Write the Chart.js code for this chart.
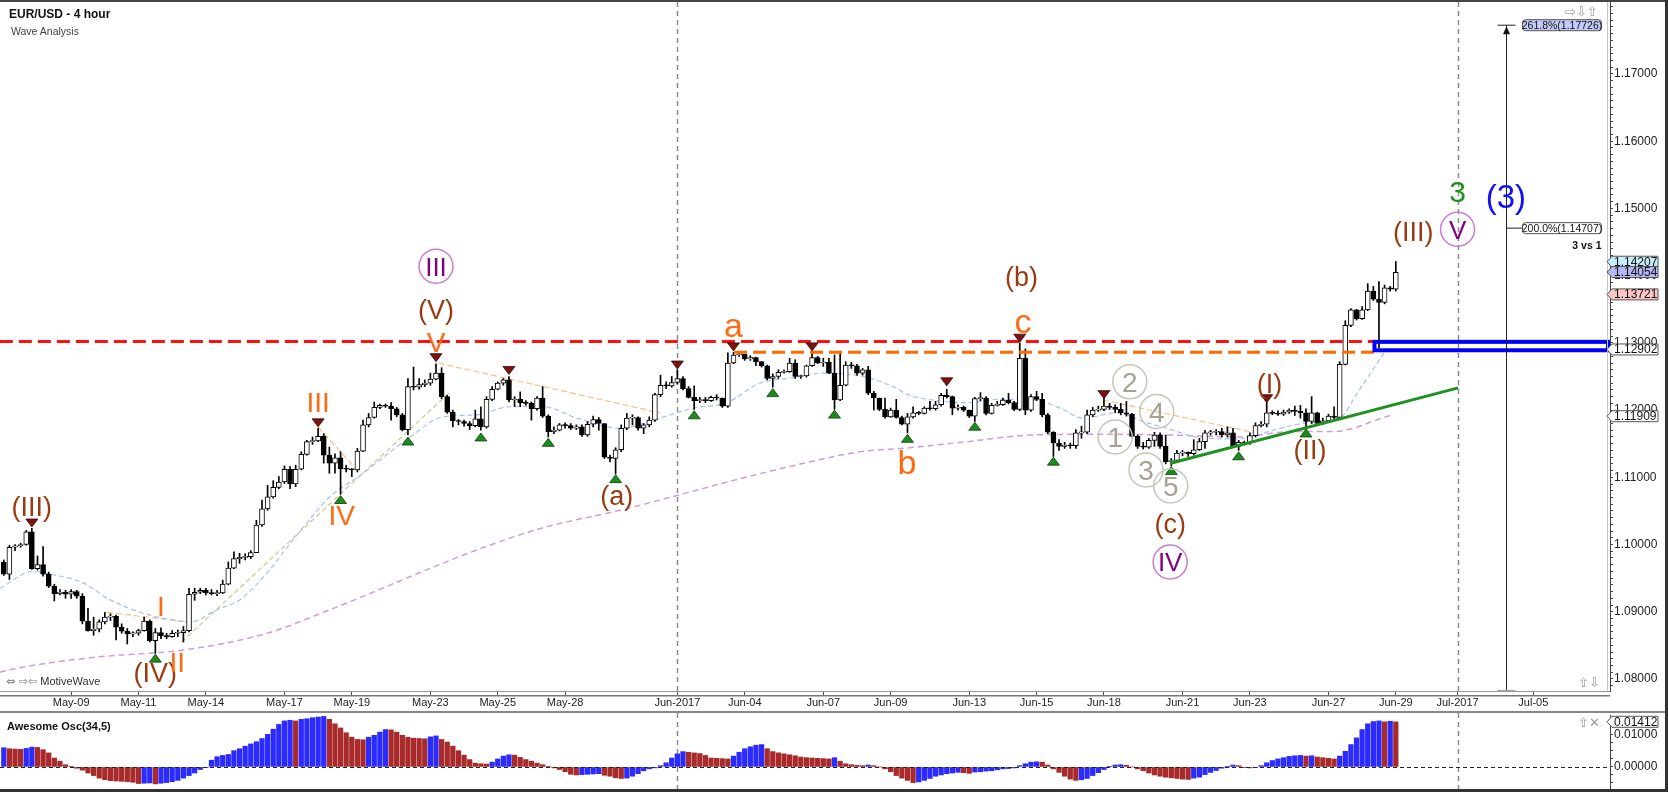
<!DOCTYPE html>
<html>
<head>
<meta charset="utf-8">
<title>EUR/USD - 4 hour</title>
<script src="https://cdn.jsdelivr.net/npm/chart.js@4.4.1/dist/chart.umd.min.js"></script>
<style>
  html, body { margin: 0; padding: 0; background: #ffffff; }
  #frame {
    position: relative; width: 1668px; height: 792px; overflow: hidden; background: #fff;
    font-family: "Liberation Sans", Arial, sans-serif;
  }
  canvas { position: absolute; left: 0; }
  #mainChart { top: 0; }
  #oscChart { top: 713px; }
  .t { position: absolute; white-space: nowrap; line-height: 1; }
  .icon { font-family: "DejaVu Sans", sans-serif; color: #9a9a9a; }
  #topBar { position: absolute; left: 0; top: 0; width: 1668px; height: 2px; background: #444; }
  #sep { position: absolute; left: 0; top: 711px; width: 1668px; height: 2px; background: #888; }
  #rightBar { position: absolute; right: 0; top: 0; width: 3px; height: 792px; background: #333; }
  #bottomBar { position: absolute; left: 0; top: 789px; width: 1668px; height: 3px; background: #333; }
</style>
</head>
<body>
<div id="frame">
  <canvas id="mainChart" width="1668" height="711"></canvas>
  <canvas id="oscChart" width="1668" height="79"></canvas>
  <div id="topBar"></div>
  <div id="sep"></div>
  <div id="rightBar"></div>
  <div id="bottomBar"></div>

  <div class="t" style="left:9px;top:8px;font-size:12px;font-weight:bold;color:#111;">EUR/USD - 4 hour</div>
  <div class="t" style="left:11px;top:26px;font-size:10.5px;color:#444;">Wave Analysis</div>
  <div class="t" style="left:6px;top:676px;font-size:11px;color:#333;"><span class="icon" style="color:#777;">&#8660; &#8680;&#8678;</span> MotiveWave</div>
  <div class="t" style="left:7px;top:721px;font-size:11px;font-weight:bold;color:#111;">Awesome Osc(34,5)</div>

  <div class="t icon" style="left:1565px;top:5px;font-size:13px;">&#8680;&#8681;&#8679;</div>
  <div class="t icon" style="left:1578px;top:676px;font-size:13px;">&#8679;&#8681;</div>
  <div class="t icon" style="left:1578px;top:716px;font-size:13px;">&#8679;&#10005;</div>
</div>

<script>
const FONT = '"Liberation Sans", Arial, Helvetica, sans-serif';
Chart.defaults.font.family = FONT;
Chart.defaults.color = '#222';

// ---- EUR/USD 4h candles (index 0 = first bar on the left) ----
// each bar opens where the previous one closed
const firstOpen = 1.0974;

const closes = [
  1.0956,1.0996,1.0998,1.1000,1.1019,1.0964,1.0970,1.0956,1.0938,1.0927,
  1.0929,1.0926,1.0930,1.0923,1.0886,1.0872,1.0874,1.0885,1.0892,1.0893,
  1.0877,1.0871,1.0867,1.0868,1.0872,1.0886,1.0857,1.0869,1.0864,1.0863,
  1.0868,1.0869,1.0872,1.0926,1.0929,1.0932,1.0928,1.0927,1.0928,1.0941,
  1.0965,1.0979,1.0981,1.0982,1.0988,1.1029,1.1053,1.1071,1.1085,1.1093,
  1.1112,1.1090,1.1112,1.1134,1.1153,1.1154,1.1161,1.1133,1.1121,1.1129,
  1.1113,1.1112,1.1111,1.1139,1.1178,1.1189,1.1204,1.1207,1.1206,1.1202,
  1.1193,1.1171,1.1235,1.1234,1.1238,1.1240,1.1246,1.1255,1.1220,1.1197,
  1.1184,1.1183,1.1180,1.1177,1.1187,1.1175,1.1216,1.1231,1.1240,1.1245,
  1.1215,1.1216,1.1211,1.1210,1.1202,1.1218,1.1191,1.1168,1.1170,1.1178,
  1.1177,1.1173,1.1175,1.1163,1.1179,1.1186,1.1180,1.1130,1.1128,1.1141,
  1.1173,1.1188,1.1189,1.1173,1.1178,1.1185,1.1223,1.1237,1.1236,1.1241,
  1.1247,1.1232,1.1219,1.1214,1.1215,1.1214,1.1219,1.1218,1.1206,1.1270,
  1.1282,1.1283,1.1276,1.1278,1.1272,1.1266,1.1247,1.1250,1.1256,1.1257,
  1.1270,1.1250,1.1251,1.1266,1.1278,1.1270,1.1271,1.1255,1.1215,1.1237,
  1.1267,1.1266,1.1255,1.1260,1.1225,1.1218,1.1201,1.1190,1.1200,1.1189,
  1.1179,1.1190,1.1196,1.1195,1.1203,1.1202,1.1208,1.1222,1.1220,1.1203,
  1.1204,1.1200,1.1191,1.1217,1.1218,1.1195,1.1207,1.1208,1.1215,1.1211,
  1.1201,1.1277,1.1200,1.1220,1.1216,1.1193,1.1167,1.1151,1.1146,1.1148,
  1.1147,1.1166,1.1167,1.1193,1.1200,1.1201,1.1206,1.1204,1.1201,1.1196,
  1.1194,1.1161,1.1146,1.1145,1.1155,1.1163,1.1146,1.1123,1.1125,1.1136,
  1.1137,1.1135,1.1141,1.1153,1.1166,1.1167,1.1168,1.1163,1.1166,1.1146,
  1.1152,1.1151,1.1162,1.1177,1.1179,1.1196,1.1195,1.1194,1.1197,1.1200,
  1.1198,1.1196,1.1183,1.1196,1.1180,1.1184,1.1191,1.1189,1.1268,1.1326,
  1.1349,1.1336,1.1349,1.1377,1.1365,1.1360,1.1382,1.1380,1.1405
];

const highs = [
  1.0977,1.0999,1.1000,1.1002,1.1021,1.1024,1.0983,1.0997,1.0959,1.0941,
  1.0933,1.0932,1.0933,1.0932,1.0927,1.0905,1.0892,1.0888,1.0899,1.0897,
  1.0895,1.0882,1.0875,1.0870,1.0874,1.0892,1.0888,1.0875,1.0876,1.0868,
  1.0872,1.0873,1.0878,1.0935,1.0935,1.0935,1.0935,1.0933,1.0932,1.0947,
  1.0974,1.0989,1.0987,1.0986,1.0991,1.1036,1.1066,1.1088,1.1095,1.1101,
  1.1117,1.1116,1.1118,1.1138,1.1155,1.1160,1.1173,1.1165,1.1145,1.1135,
  1.1138,1.1118,1.1113,1.1143,1.1185,1.1195,1.1212,1.1209,1.1209,1.1211,
  1.1204,1.1195,1.1247,1.1264,1.1247,1.1245,1.1255,1.1269,1.1263,1.1222,
  1.1200,1.1186,1.1185,1.1183,1.1200,1.1205,1.1220,1.1235,1.1242,1.1247,
  1.1250,1.1220,1.1227,1.1214,1.1212,1.1220,1.1235,1.1193,1.1175,1.1180,
  1.1181,1.1180,1.1178,1.1178,1.1183,1.1191,1.1189,1.1180,1.1133,1.1144,
  1.1178,1.1195,1.1193,1.1190,1.1180,1.1190,1.1225,1.1252,1.1242,1.1250,
  1.1260,1.1250,1.1235,1.1236,1.1219,1.1219,1.1221,1.1223,1.1218,1.1285,
  1.1286,1.1285,1.1282,1.1281,1.1279,1.1272,1.1267,1.1254,1.1260,1.1260,
  1.1277,1.1275,1.1252,1.1267,1.1287,1.1280,1.1277,1.1277,1.1282,1.1284,
  1.1272,1.1271,1.1268,1.1262,1.1265,1.1228,1.1218,1.1218,1.1203,1.1216,
  1.1191,1.1195,1.1205,1.1198,1.1205,1.1213,1.1213,1.1225,1.1231,1.1221,
  1.1208,1.1206,1.1200,1.1219,1.1226,1.1220,1.1210,1.1213,1.1218,1.1225,
  1.1213,1.1300,1.1291,1.1223,1.1228,1.1225,1.1195,1.1168,1.1156,1.1152,
  1.1151,1.1171,1.1176,1.1200,1.1204,1.1206,1.1218,1.1210,1.1208,1.1210,
  1.1213,1.1195,1.1163,1.1152,1.1158,1.1167,1.1166,1.1163,1.1128,1.1140,
  1.1140,1.1138,1.1156,1.1158,1.1170,1.1170,1.1171,1.1173,1.1175,1.1173,
  1.1155,1.1154,1.1166,1.1181,1.1183,1.1212,1.1199,1.1199,1.1200,1.1202,
  1.1206,1.1207,1.1202,1.1220,1.1197,1.1188,1.1194,1.1205,1.1272,1.1333,
  1.1351,1.1350,1.1354,1.1388,1.1384,1.1391,1.1386,1.1384,1.1421
];

const lows = [
  1.0954,1.0948,1.0991,1.0996,1.0999,1.0963,1.0962,1.0953,1.0936,1.0916,
  1.0925,1.0920,1.0920,1.0920,1.0882,1.0871,1.0865,1.0870,1.0882,1.0887,
  1.0858,1.0868,1.0852,1.0863,1.0865,1.0871,1.0855,1.0838,1.0860,1.0860,
  1.0862,1.0863,1.0855,1.0870,1.0917,1.0927,1.0925,1.0925,1.0924,1.0927,
  1.0940,1.0964,1.0972,1.0977,1.0979,1.0988,1.1027,1.1051,1.1069,1.1083,
  1.1091,1.1083,1.1086,1.1111,1.1133,1.1149,1.1153,1.1121,1.1106,1.1106,
  1.1075,1.1108,1.1101,1.1108,1.1138,1.1175,1.1188,1.1202,1.1204,1.1185,
  1.1190,1.1169,1.1163,1.1230,1.1231,1.1235,1.1237,1.1245,1.1217,1.1195,
  1.1175,1.1178,1.1176,1.1171,1.1175,1.1170,1.1173,1.1214,1.1230,1.1237,
  1.1212,1.1205,1.1205,1.1207,1.1185,1.1200,1.1189,1.1160,1.1165,1.1169,
  1.1173,1.1171,1.1171,1.1161,1.1161,1.1175,1.1170,1.1128,1.1123,1.1105,
  1.1138,1.1171,1.1178,1.1170,1.1165,1.1175,1.1183,1.1220,1.1232,1.1234,
  1.1239,1.1230,1.1218,1.1201,1.1211,1.1211,1.1213,1.1215,1.1204,1.1204,
  1.1269,1.1280,1.1274,1.1274,1.1266,1.1264,1.1245,1.1234,1.1247,1.1255,
  1.1256,1.1247,1.1247,1.1249,1.1265,1.1269,1.1265,1.1254,1.1201,1.1214,
  1.1236,1.1262,1.1252,1.1252,1.1223,1.1200,1.1199,1.1188,1.1189,1.1188,
  1.1178,1.1166,1.1188,1.1193,1.1194,1.1200,1.1200,1.1206,1.1218,1.1193,
  1.1200,1.1198,1.1189,1.1183,1.1214,1.1193,1.1194,1.1206,1.1207,1.1209,
  1.1199,1.1199,1.1193,1.1198,1.1214,1.1190,1.1165,1.1131,1.1140,1.1143,
  1.1143,1.1143,1.1158,1.1165,1.1190,1.1198,1.1199,1.1201,1.1196,1.1193,
  1.1191,1.1160,1.1143,1.1142,1.1143,1.1146,1.1143,1.1120,1.1117,1.1123,
  1.1132,1.1131,1.1133,1.1140,1.1143,1.1163,1.1163,1.1160,1.1160,1.1144,
  1.1140,1.1148,1.1149,1.1160,1.1175,1.1175,1.1193,1.1192,1.1192,1.1195,
  1.1192,1.1188,1.1174,1.1180,1.1179,1.1179,1.1183,1.1186,1.1188,1.1267,
  1.1324,1.1334,1.1335,1.1348,1.1363,1.1292,1.1358,1.1377,1.1377
];

// Awesome Oscillator (34,5), one value per candle, in pips (1 pip = 0.0001)
const aoPips = [
  60,57,56,55,58,62,61,54,44,28,
  18,7,1,-4,-10,-19,-27,-35,-40,-43,
  -44,-45,-46,-48,-52,-51,-50,-53,-51,-49,
  -46,-42,-35,-27,-19,-8,-2,21,32,36,
  39,51,57,65,72,79,89,102,118,133,
  144,146,144,149,151,154,156,158,149,135,
  122,107,93,86,85,93,99,109,117,116,
  109,99,93,90,89,88,94,97,86,78,
  65,51,37,23,12,10,9,15,25,34,
  38,37,30,23,18,12,7,2,-3,-8,
  -15,-23,-25,-24,-23,-22,-21,-26,-29,-34,
  -36,-35,-29,-21,-12,-6,-3,4,13,28,
  41,48,46,44,42,36,28,27,26,25,
  34,46,57,63,68,70,57,48,44,41,
  38,35,31,29,28,27,26,25,29,18,
  10,7,5,4,6,4,0,-6,-15,-27,
  -35,-42,-49,-47,-42,-36,-29,-25,-21,-19,
  -17,-18,-20,-16,-15,-13,-12,-9,-6,-5,
  -3,4,10,15,16,15,6,-6,-17,-29,
  -38,-42,-40,-36,-27,-18,-8,2,6,7,
  5,0,-6,-12,-19,-25,-29,-32,-34,-36,
  -38,-39,-35,-32,-24,-17,-11,-4,2,6,
  4,-1,-3,-2,4,13,20,25,29,33,
  35,36,34,35,31,29,27,25,34,49,
  70,91,117,135,142,144,141,143,141
];

// date ticks: candle index of the first bar of each labelled day
const dateTickIdx = [12, 24, 36, 50, 62, 76, 88, 100, 120, 132, 146, 158, 172, 184, 196, 210, 222, 236, 248, 259, 272.5];
const dateTickLabels = ['May-09', 'May-11', 'May-14', 'May-17', 'May-19', 'May-23', 'May-25', 'May-28', 'Jun-2017',
  'Jun-04', 'Jun-07', 'Jun-09', 'Jun-13', 'Jun-15', 'Jun-18', 'Jun-21', 'Jun-23', 'Jun-27', 'Jun-29', 'Jul-2017', 'Jul-05'];

// moving averages, sampled off the chart as [candle index, price]
const fastMA = [[-0.7,1.0935],[5.2,1.0960],[8.8,1.0955],[14.1,1.0943],[18.9,1.0918],[25.5,1.0896],[30.1,1.0888],
  [33.2,1.0885],[38,1.0903],[42.1,1.0918],[46.9,1.0958],[52.2,1.1014],[58.1,1.1071],[63.5,1.1103],[72.4,1.1160],
  [78.2,1.1190],[84.3,1.1193],[90.2,1.1205],[96.1,1.1205],[102.1,1.1188],[109.8,1.1173],[115.7,1.1185],[122.8,1.1203],
  [128.8,1.1211],[134.7,1.1240],[140.6,1.1248],[146,1.1255],[153.1,1.1250],[158.4,1.1235],[161.4,1.1222],[165.5,1.1215],
  [171.6,1.1211],[177.5,1.1216],[183.4,1.1215],[188.2,1.1203],[192.3,1.1188],[198.3,1.1196],[203,1.1183],[207.2,1.1173],
  [213.1,1.1159],[220.2,1.1157],[226.1,1.1170],[232.2,1.1181],[238,1.1188],[241.1,1.1225],[245.9,1.1285]];
const slowMA = [[-0.7,1.0810],[2.3,1.0816],[17.1,1.0833],[31.9,1.0843],[46.9,1.0868],[58.1,1.0903],[84.3,1.0992],
  [96.1,1.1025],[109.8,1.1051],[131.7,1.1099],[143.6,1.1123],[152.5,1.1138],[161.4,1.1144],[171.6,1.1153],
  [183.4,1.1163],[195.3,1.1164],[207.2,1.1163],[220.2,1.1160],[229.1,1.1168],[236.8,1.1168],[247,1.1192]];

// wave trend lines [idx1, price1, idx2, price2]
const orangeThinLines = [[18.4,1.0899,32.8,1.0885],[56,1.1175,62.9,1.1111],[77.4,1.1270,116.9,1.1196],[195.8,1.1215,222.5,1.1167]];
const khakiLines = [[31.7,1.0855,79.5,1.1227]];
const greenTrend = [207.9, 1.1121, 259.1, 1.1233];
const redLevel = [-0.7, 1.1302, 244.2, 1.1302];
const orangeLevel = [130.1, 1.1286, 244.2, 1.1286];

// target box and fibonacci projection
const targetBox = { fromIdx: 244.2, top: 1.13015, bottom: 1.12890 };
const projection = { idx: 267.6, top: 1.17726, base: 1.0783, mid: 1.14707 };

// swing markers [candle index, price]
const topMarks = [[5,1.1032],[56,1.1181],[77,1.1278],[90,1.1259],[120,1.1267],[130,1.1294],[144,1.1294],
  [168,1.1242],[181,1.1307],[196,1.1223],[225,1.1217]];
const bottomMarks = [[27,1.0831],[60,1.1067],[72,1.1154],[85,1.1160],[97,1.1152],[109,1.1098],[123,1.1193],
  [137,1.1226],[148,1.1194],[161,1.1158],[173,1.1176],[187,1.1124],[208,1.1110],[220,1.1132],[232,1.1166]];

// wave labels [text, candle index, price, style]
const waveLabels = [
  ['(III)', 5, 1.1054, 'rust'], ['I', 28, 1.0909, 'orange'], ['(IV)', 27, 1.0806, 'rust'], ['II', 30.9, 1.0825, 'orange'],
  ['III', 56, 1.1212, 'orange'], ['IV', 60.2, 1.1044, 'orange'], ['V', 77, 1.1301, 'orange'], ['(V)', 77, 1.1347, 'rust'],
  ['III', 77, 1.1414, 'purple'], ['(a)', 109.2, 1.1069, 'rust'], ['a', 130, 1.1322, 'orangeLow'],
  ['b', 160.9, 1.1123, 'orangeLow'], ['c', 181.6, 1.1329, 'orangeLow'], ['(b)', 181.3, 1.1395, 'rust'],
  ['1', 198, 1.1160, 'gray'], ['2', 200.6, 1.1242, 'gray'], ['3', 203.5, 1.1111, 'gray'], ['4', 205.4, 1.1198, 'gray'],
  ['5', 207.9, 1.1087, 'gray'], ['(c)', 207.8, 1.1028, 'rust'], ['IV', 207.8, 1.0974, 'purple'],
  ['(I)', 225.5, 1.1237, 'rust'], ['(II)', 232.7, 1.1138, 'rust'], ['(III)', 251.1, 1.1463, 'rust'],
  ['V', 259, 1.1469, 'purple'], ['3', 259, 1.1525, 'green'], ['(3)', 267.6, 1.1514, 'blue']
];

// value tags on the price axis [value, fill]
const priceTags = [[1.14207, '#c8ecfa'], [1.14054, '#b4b6f6'], [1.13721, '#ffc6c6'], [1.12902, '#ffffff'], [1.11909, '#ffffff']];
const aoTag = 0.01412;

const labelStyle = {
  rust: { color: '#9b3a0e', size: 27 },
  orange: { color: '#ff6a10', size: 28 },
  orangeLow: { color: '#ff6a10', size: 34 },
  purple: { color: '#800080', size: 26, ring: '#c77fd0', r: 17 },
  gray: { color: '#a5a294', size: 28, ring: '#c6c5bc', r: 17 },
  green: { color: '#1f8f1f', size: 30 },
  blue: { color: '#1010ff', size: 33 }
};

// axis limits, matched to the picture frame
const X_MIN = -0.677, X_MAX = 286.16;
const Y_MIN = 1.07821, Y_MAX = 1.18071;
const AO_MIN = -0.0069, AO_MAX = 0.01625;

// ---- build datasets ----
const opens = closes.map((c, i) => i === 0 ? firstOpen : closes[i - 1]);
const bodyData = closes.map((c, i) => ({ x: i, y: [opens[i], c] }));
const wickData = closes.map((c, i) => ({
  x: i, y: [Math.min(lows[i], opens[i], c), Math.max(highs[i], opens[i], c)]
}));
const bodyFill = closes.map((c, i) => c >= opens[i] ? '#ffffff' : '#000000');

function lineSet(points, color, width, dash, order, smooth) {
  return {
    type: 'line',
    data: points.map(p => ({ x: p[0], y: p[1] })),
    borderColor: color,
    borderWidth: width,
    borderDash: dash,
    pointRadius: 0,
    fill: false,
    tension: smooth ? 0.4 : 0,
    cubicInterpolationMode: smooth ? 'monotone' : 'default',
    order: order
  };
}
function segment(s) {
  return [[s[0], s[1]], [s[2], s[3]]];
}

const monthLines = dateTickIdx.filter((v, i) => dateTickLabels[i].indexOf('2017') > 0);

function drawMonthLines(ctx, xs, top, bottom) {
  ctx.save();
  ctx.strokeStyle = '#8c8c8c';
  ctx.lineWidth = 1.5;
  ctx.setLineDash([5, 4]);
  monthLines.forEach(v => {
    const px = Math.round(xs.getPixelForValue(v)) + 0.5;
    ctx.beginPath();
    ctx.moveTo(px, top);
    ctx.lineTo(px, bottom);
    ctx.stroke();
  });
  ctx.restore();
}

function marker(ctx, x, y, up) {
  ctx.beginPath();
  if (up) {
    ctx.moveTo(x, y - 4); ctx.lineTo(x + 6, y + 4); ctx.lineTo(x - 6, y + 4);
  } else {
    ctx.moveTo(x, y + 4); ctx.lineTo(x + 6, y - 4); ctx.lineTo(x - 6, y - 4);
  }
  ctx.closePath();
  ctx.fillStyle = up ? '#1d8c1d' : '#7d1212';
  ctx.fill();
  ctx.lineWidth = 0.8;
  ctx.strokeStyle = up ? '#0b3f0b' : '#3a0606';
  ctx.stroke();
}

function waveText(ctx, x, y, text, st) {
  let size = st.size;
  ctx.textAlign = 'center';
  ctx.textBaseline = 'alphabetic';
  ctx.font = size + 'px ' + FONT;
  if (st.ring) {
    ctx.beginPath();
    ctx.arc(x, y, st.r, 0, Math.PI * 2);
    ctx.lineWidth = 1.5;
    ctx.strokeStyle = st.ring;
    ctx.stroke();
    while (ctx.measureText(text).width > st.r * 1.45 && size > 10) {
      size--;
      ctx.font = size + 'px ' + FONT;
    }
  }
  const low = /[(ac]/.test(text);
  ctx.fillStyle = st.color;
  ctx.fillText(text, x, y + (low ? 0.27 : 0.36) * size);
}

function roundBox(ctx, x, y, w, h, r) {
  ctx.beginPath();
  ctx.moveTo(x + r, y);
  ctx.lineTo(x + w - r, y); ctx.quadraticCurveTo(x + w, y, x + w, y + r);
  ctx.lineTo(x + w, y + h - r); ctx.quadraticCurveTo(x + w, y + h, x + w - r, y + h);
  ctx.lineTo(x + r, y + h); ctx.quadraticCurveTo(x, y + h, x, y + h - r);
  ctx.lineTo(x, y + r); ctx.quadraticCurveTo(x, y, x + r, y);
  ctx.closePath();
}

function valueTag(ctx, xLeft, yc, text, fill) {
  const h = 11, w = 51;
  ctx.beginPath();
  ctx.moveTo(xLeft, yc);
  ctx.lineTo(xLeft + 5, yc - h / 2);
  ctx.lineTo(xLeft + w, yc - h / 2);
  ctx.lineTo(xLeft + w, yc + h / 2);
  ctx.lineTo(xLeft + 5, yc + h / 2);
  ctx.closePath();
  ctx.fillStyle = fill;
  ctx.fill();
  ctx.strokeStyle = '#555';
  ctx.lineWidth = 1;
  ctx.stroke();
  ctx.fillStyle = '#111';
  ctx.font = '12px ' + FONT;
  ctx.textAlign = 'left';
  ctx.textBaseline = 'middle';
  ctx.fillText(text, xLeft + 7, yc + 0.5);
}

// everything drawn on top of the candles
const mainOverlay = {
  id: 'mainOverlay',
  beforeDatasetsDraw(chart) {
    drawMonthLines(chart.ctx, chart.scales.x, chart.chartArea.top, chart.chartArea.bottom);
  },
  afterDatasetsDraw(chart) {
    const ctx = chart.ctx, area = chart.chartArea, xs = chart.scales.x, ys = chart.scales.y;
    ctx.save();

    // blue target box
    const bx = xs.getPixelForValue(targetBox.fromIdx);
    const bt = ys.getPixelForValue(targetBox.top), bb = ys.getPixelForValue(targetBox.bottom);
    ctx.strokeStyle = '#0000ff';
    ctx.lineWidth = 4;
    ctx.strokeRect(bx, bt, area.right - 2 - bx, bb - bt);

    // swing markers
    topMarks.forEach(m => marker(ctx, xs.getPixelForValue(m[0]), ys.getPixelForValue(m[1]), false));
    bottomMarks.forEach(m => marker(ctx, xs.getPixelForValue(m[0]), ys.getPixelForValue(m[1]), true));

    // projection ruler
    const px = Math.round(xs.getPixelForValue(projection.idx)) + 0.5;
    const pt = ys.getPixelForValue(projection.top), pb = ys.getPixelForValue(projection.base);
    const pm = ys.getPixelForValue(projection.mid);
    ctx.strokeStyle = '#222';
    ctx.lineWidth = 1;
    ctx.beginPath();
    ctx.moveTo(px, pt); ctx.lineTo(px, pb);
    ctx.moveTo(px - 9, pt); ctx.lineTo(px + 9, pt);
    ctx.moveTo(px, pm); ctx.lineTo(px + 16, pm);
    ctx.stroke();
    ctx.strokeStyle = '#999';
    ctx.beginPath();
    ctx.moveTo(px - 9, pb); ctx.lineTo(px + 9, pb);
    ctx.stroke();
    ctx.fillStyle = '#111';
    ctx.beginPath();
    ctx.moveTo(px, pt + 1); ctx.lineTo(px - 3.5, pt + 9); ctx.lineTo(px + 3.5, pt + 9);
    ctx.closePath();
    ctx.fill();

    ctx.font = '10.5px ' + FONT;
    ctx.textAlign = 'center';
    ctx.textBaseline = 'middle';
    roundBox(ctx, px + 16, pt - 5.5, 79, 11, 3);
    ctx.fillStyle = '#c4cbf8'; ctx.fill();
    ctx.strokeStyle = '#555'; ctx.stroke();
    ctx.fillStyle = '#111';
    ctx.fillText('261.8%(' + projection.top.toFixed(5) + ')', px + 55.5, pt + 0.5);
    roundBox(ctx, px + 16, pm - 5.5, 79, 11, 3);
    ctx.fillStyle = '#ffffff'; ctx.fill();
    ctx.strokeStyle = '#555'; ctx.stroke();
    ctx.fillStyle = '#111';
    ctx.fillText('200.0%(' + projection.mid.toFixed(5) + ')', px + 55.5, pm + 0.5);
    ctx.font = 'bold 10.5px ' + FONT;
    ctx.textAlign = 'right';
    ctx.textBaseline = 'alphabetic';
    ctx.fillText('3 vs 1', px + 95, pm + 21);

    // wave labels
    waveLabels.forEach(w => waveText(ctx, xs.getPixelForValue(w[1]), ys.getPixelForValue(w[2]), w[0], labelStyle[w[3]]));
    ctx.restore();
  },
  afterDraw(chart) {
    const ctx = chart.ctx, area = chart.chartArea, ys = chart.scales.y;
    ctx.save();
    ctx.fillStyle = '#c8c8c8';
    ctx.fillRect(area.right - 3, area.top, 1, area.bottom - area.top);
    ctx.fillStyle = '#777';
    ctx.fillRect(0, area.bottom + 4, area.right, 1.5);
    priceTags.forEach(t => valueTag(ctx, area.right - 3, ys.getPixelForValue(t[0]), t[0].toFixed(5), t[1]));
    ctx.restore();
  }
};

const mainChart = new Chart(document.getElementById('mainChart'), {
  type: 'bar',
  data: {
    datasets: [
      { type: 'bar', data: bodyData, backgroundColor: bodyFill, borderColor: '#000', borderWidth: 1,
        borderSkipped: false, barThickness: 5, minBarLength: 1, grouped: false, order: 2 },
      { type: 'bar', data: wickData, backgroundColor: '#000', borderWidth: 0, barThickness: 1, grouped: false, order: 3 },
      lineSet(fastMA, '#a7bff5', 1.2, [5, 3], 6, true),
      lineSet(slowMA, '#d49ad8', 1.5, [6, 4], 6, true),
      ...khakiLines.map(s => lineSet(segment(s), '#cfc68a', 1.2, [5, 3], 6, false)),
      ...orangeThinLines.map(s => lineSet(segment(s), '#ffbd85', 1.2, [6, 3], 6, false)),
      lineSet(segment(redLevel), '#ff1010', 3, [13, 6], 1, false),
      lineSet(segment(orangeLevel), '#ff6a00', 3, [13, 6], 1, false),
      lineSet(segment(greenTrend), '#1f911f', 3, [], 1, false)
    ]
  },
  options: {
    responsive: false,
    animation: false,
    devicePixelRatio: 1,
    events: [],
    layout: { padding: { left: 0, right: 0, top: 2, bottom: 0 } },
    plugins: { legend: { display: false }, tooltip: { enabled: false } },
    scales: {
      x: {
        type: 'linear', min: X_MIN, max: X_MAX, offset: false, bounds: 'data',
        afterBuildTicks: s => { s.ticks = dateTickIdx.map(v => ({ value: v })); },
        afterFit: s => { s.height = 20; s.paddingLeft = 0; s.paddingRight = 0; },
        ticks: { autoSkip: false, maxRotation: 0, padding: 1, color: '#222', font: { size: 11 },
                 callback: (v, i) => dateTickLabels[i] },
        grid: { drawOnChartArea: false, drawTicks: true, tickLength: 4, color: '#555', offset: false },
        border: { display: true, color: '#999' }
      },
      y: {
        type: 'linear', position: 'right', min: Y_MIN, max: Y_MAX, bounds: 'data',
        afterBuildTicks: s => {
          const t = [];
          for (let k = 1079; k <= 1180; k++) t.push({ value: k / 1000 });
          s.ticks = t;
        },
        afterFit: s => { s.width = 58; s.paddingTop = 0; s.paddingBottom = 0; },
        ticks: { autoSkip: false, padding: 1, color: '#222', font: { size: 12 },
                 callback: v => (Math.round(v * 1000) % 10 === 0 && v < 1.175) ? v.toFixed(5) : '' },
        grid: { drawOnChartArea: false, drawTicks: true, tickLength: 3, color: '#444' },
        border: { display: true, color: '#444' }
      }
    }
  },
  plugins: [mainOverlay]
});

// ---- Awesome oscillator panel ----
const aoValues = aoPips.map(v => v / 10000);
const aoColors = aoValues.map((v, i) => (i === 0 || v > aoValues[i - 1]) ? '#2b2bff' : '#a82a2a');

const oscOverlay = {
  id: 'oscOverlay',
  beforeDatasetsDraw(chart) {
    drawMonthLines(chart.ctx, chart.scales.x, 0, chart.height);
  },
  afterDatasetsDraw(chart) {
    const ctx = chart.ctx, area = chart.chartArea, ys = chart.scales.y;
    const y0 = Math.round(ys.getPixelForValue(0)) + 0.5;
    ctx.save();
    ctx.strokeStyle = '#222';
    ctx.lineWidth = 1;
    ctx.setLineDash([4, 3]);
    ctx.beginPath();
    ctx.moveTo(area.left, y0);
    ctx.lineTo(area.right, y0);
    ctx.stroke();
    ctx.restore();
  },
  afterDraw(chart) {
    const ctx = chart.ctx, area = chart.chartArea, ys = chart.scales.y;
    ctx.save();
    valueTag(ctx, area.right - 3, ys.getPixelForValue(aoTag), aoTag.toFixed(5), '#ffffff');
    ctx.restore();
  }
};

const oscChart = new Chart(document.getElementById('oscChart'), {
  type: 'bar',
  data: {
    datasets: [{
      data: aoValues.map((v, i) => ({ x: i, y: v })),
      backgroundColor: aoColors,
      borderWidth: 0,
      barThickness: 4.6,
      grouped: false
    }]
  },
  options: {
    responsive: false,
    animation: false,
    devicePixelRatio: 1,
    events: [],
    layout: { padding: { left: 0, right: 0, top: 2, bottom: 3 } },
    plugins: { legend: { display: false }, tooltip: { enabled: false } },
    scales: {
      x: { type: 'linear', min: X_MIN, max: X_MAX, offset: false, display: false, grid: { offset: false } },
      y: {
        type: 'linear', position: 'right', min: AO_MIN, max: AO_MAX, bounds: 'data',
        afterBuildTicks: s => {
          const t = [];
          for (let k = -2; k <= 6; k++) t.push({ value: k * 0.0025 });
          s.ticks = t;
        },
        afterFit: s => { s.width = 58; s.paddingTop = 0; s.paddingBottom = 0; },
        ticks: { autoSkip: false, padding: 1, color: '#222', font: { size: 12 },
                 callback: v => (Math.abs(v) < 1e-9 || Math.abs(v - 0.01) < 1e-9) ? v.toFixed(5) : '' },
        grid: { drawOnChartArea: false, drawTicks: true, tickLength: 3, color: '#444' },
        border: { display: true, color: '#444' }
      }
    }
  },
  plugins: [oscOverlay]
});
</script>
</body>
</html>
